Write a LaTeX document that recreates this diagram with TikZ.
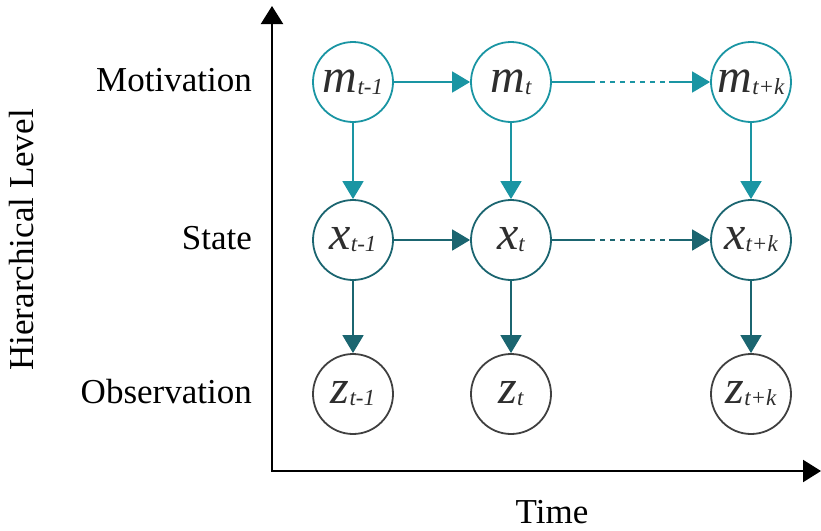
\documentclass[tikz,border=0pt]{standalone}
\usepackage{fontspec}
\setmainfont{Liberation Serif}
\usetikzlibrary{arrows.meta}

\definecolor{motteal}{HTML}{1A95A3}
\definecolor{stateteal}{HTML}{1B6570}
\definecolor{obsgray}{HTML}{404040}
\definecolor{vartext}{HTML}{2E2E2E}

\newcommand{\rvar}[2]{{\fontsize{48}{48}\selectfont\itshape #1}\raisebox{-2pt}{\fontsize{23}{23}\selectfont\itshape #2}}

\tikzset{
    varnode/.style={circle, minimum size=80pt, inner sep=-8pt, line width=1.8pt, fill=white, text=vartext},
    motnode/.style={varnode, draw=motteal},
    statenode/.style={varnode, draw=stateteal},
    obsnode/.style={varnode, draw=obsgray},
    motarrow/.style={draw=motteal, line width=1.8pt, -{Triangle[length=18pt,width=21pt]}, color=motteal},
    statearrow/.style={draw=stateteal, line width=1.8pt, -{Triangle[length=18pt,width=21pt]}, color=stateteal},
    axisline/.style={line width=2.2pt, {Triangle[length=18pt,width=22pt]}-{Triangle[length=18pt,width=22pt]}},
    levellabel/.style={anchor=east, inner sep=0pt, font=\fontsize{35}{40}\selectfont}
}

\begin{document}
\begin{tikzpicture}[x=1pt, y=-1pt]
\useasboundingbox (0,0) rectangle (821,530);

% axes
\coordinate (ytop) at (272,6);
\coordinate (origin) at (272,471);
\coordinate (xend) at (821,471);
\draw[axisline] (ytop) -- (origin) -- (xend);

\node[levellabel] (motlab) at (252,80) {Motivation};
\node[levellabel] (statelab) at (252,238) {State};
\node[levellabel] (obslab) at (252,392) {Observation};
\node[rotate=90, inner sep=0pt, font=\fontsize{35}{40}\selectfont] (ylab) at (22,240) {Hierarchical Level};
\node[anchor=base, inner sep=0pt, font=\fontsize{35}{40}\selectfont] (xlab) at (552,523) {Time};

\foreach \x/\t/\sub in {353/p/{t-1}, 511/c/t, 751/k/{t+k}} {
    \node[motnode] (m\t) at (\x,82) {\rvar{m}{\sub}};
    \node[statenode] (x\t) at (\x,240) {\rvar{x}{\sub}};
    \node[obsnode] (z\t) at (\x,394) {\rvar{z}{\sub}};
    \draw[motarrow] (m\t) -- (x\t);
    \draw[statearrow] (x\t) -- (z\t);
}

% time steps
\coordinate (mda) at (590,82);
\coordinate (mdb) at (669,82);
\coordinate (xda) at (590,240);
\coordinate (xdb) at (669,240);

\draw[motarrow] (mp) -- (mc);
\draw[motteal, line width=1.8pt] (mc) -- (mda);
\draw[motteal, line width=1.8pt, dash pattern=on 5pt off 5pt] (mda) -- (mdb);
\draw[motarrow] (mdb) -- (mk);

\draw[statearrow] (xp) -- (xc);
\draw[stateteal, line width=1.8pt] (xc) -- (xda);
\draw[stateteal, line width=1.8pt, dash pattern=on 5pt off 5pt] (xda) -- (xdb);
\draw[statearrow] (xdb) -- (xk);
\end{tikzpicture}
\end{document}
